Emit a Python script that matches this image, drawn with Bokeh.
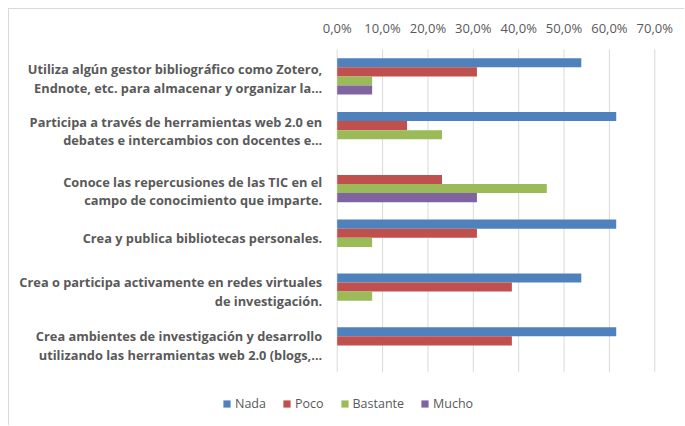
from bokeh.plotting import figure
from bokeh.models import Range1d, Legend, LegendItem, ColumnDataSource
from bokeh.core.properties import value
from bokeh.transform import dodge
from bokeh.embed import file_html
from bokeh.resources import INLINE

# ---------------- data ----------------
categories = [
    "Utiliza algún gestor bibliográfico como Zotero,\nEndnote, etc. para almacenar y organizar la...",
    "Participa a través de herramientas web 2.0 en\ndebates e intercambios con docentes e...",
    "Conoce las repercusiones de las TIC en el\ncampo de conocimiento que imparte.",
    "Crea y publica bibliotecas personales.",
    "Crea o participa activamente en redes virtuales\nde investigación.",
    "Crea ambientes de investigación y desarrollo\nutilizando las herramientas web 2.0 (blogs,...",
]
series = ["Nada", "Poco", "Bastante", "Mucho"]
nada = [53.8, 61.5, 0.0, 61.5, 53.8, 61.5]
poco = [30.8, 15.4, 23.1, 30.8, 38.5, 38.5]
bastante = [7.7, 23.1, 46.2, 7.7, 7.7, 0.0]
mucho = [7.7, 0.0, 30.8, 0.0, 0.0, 0.0]
x_ticks = [0, 10, 20, 30, 40, 50, 60, 70]
x_tick_labels = ["0,0%", "10,0%", "20,0%", "30,0%", "40,0%", "50,0%", "60,0%", "70,0%"]

# ---------------- style ----------------
colors = ["#4f81bd", "#c0504d", "#9bbb59", "#8064a2"]
TEXT = "#595959"
GRID = "#d9d9d9"
FONT = "Open Sans"
N = len(categories)
label_nudge_px = [2, 1, 7, 0, 0, 0]   # small vertical nudges of the category labels

src = ColumnDataSource(dict(
    pos=[i + 0.5 for i in range(N)],
    Nada=nada, Poco=poco, Bastante=bastante, Mucho=mucho,
))

# whole figure is the frame; x in percent, y in category units (top -> down)
p = figure(width=676, height=417, output_backend="svg", toolbar_location=None,
           x_range=Range1d(-72.23, 76.77), y_range=Range1d(7.007, -0.743),
           x_axis_location=None, y_axis_location=None,
           min_border=0, margin=(8, 0, 0, 8),
           styles={"border-top": "1px solid " + GRID, "border-left": "1px solid " + GRID})
p.outline_line_color = None
p.grid.visible = False
p.background_fill_color = "white"
p.border_fill_color = "white"

# vertical gridlines from the tick values
p.segment(x0=x_ticks, x1=x_ticks, y0=[0] * len(x_ticks), y1=[N] * len(x_ticks),
          line_color=GRID, line_width=1)

# top tick labels
p.text(x=x_ticks, y=[0] * len(x_ticks), text=x_tick_labels, y_offset=-21,
       text_align="center", text_baseline="middle",
       text_font=value(FONT), text_font_size="13px", text_color=TEXT)

# bars
bar_h = 0.169
renderers = []
for k, (name, col) in enumerate(zip(series, colors)):
    off = (k - 1.5) * bar_h
    r = p.hbar(y=dodge("pos", off), left=0, right=name, height=bar_h,
               source=src, fill_color=col, line_color=None)
    renderers.append(r)

# category labels (right aligned, one text per line)
line_gap = 18.5
lx, ly, loff, ltxt = [], [], [], []
for i, cat in enumerate(categories):
    lines = cat.split("\n")
    n = len(lines)
    for j, ln in enumerate(lines):
        lx.append(0)
        ly.append(i + 0.5)
        loff.append((j - (n - 1) / 2) * line_gap + label_nudge_px[i])
        ltxt.append(ln)
p.text(x=lx, y=ly, text=ltxt, x_offset=-15, y_offset=loff,
       text_align="right", text_baseline="middle",
       text_font=value(FONT), text_font_style="bold",
       text_font_size="12.8px", text_color=TEXT)

legend = Legend(items=[LegendItem(label=s, renderers=[r]) for s, r in zip(series, renderers)],
                orientation="horizontal", location=(213, 14),
                border_line_color=None, background_fill_alpha=0,
                padding=0, margin=0, spacing=16, label_standoff=4,
                glyph_width=9, glyph_height=9, label_height=14,
                label_text_font=FONT, label_text_font_size="12.5px",
                label_text_color=TEXT)
p.add_layout(legend)

open("out.html", "w").write(file_html(p, INLINE))
